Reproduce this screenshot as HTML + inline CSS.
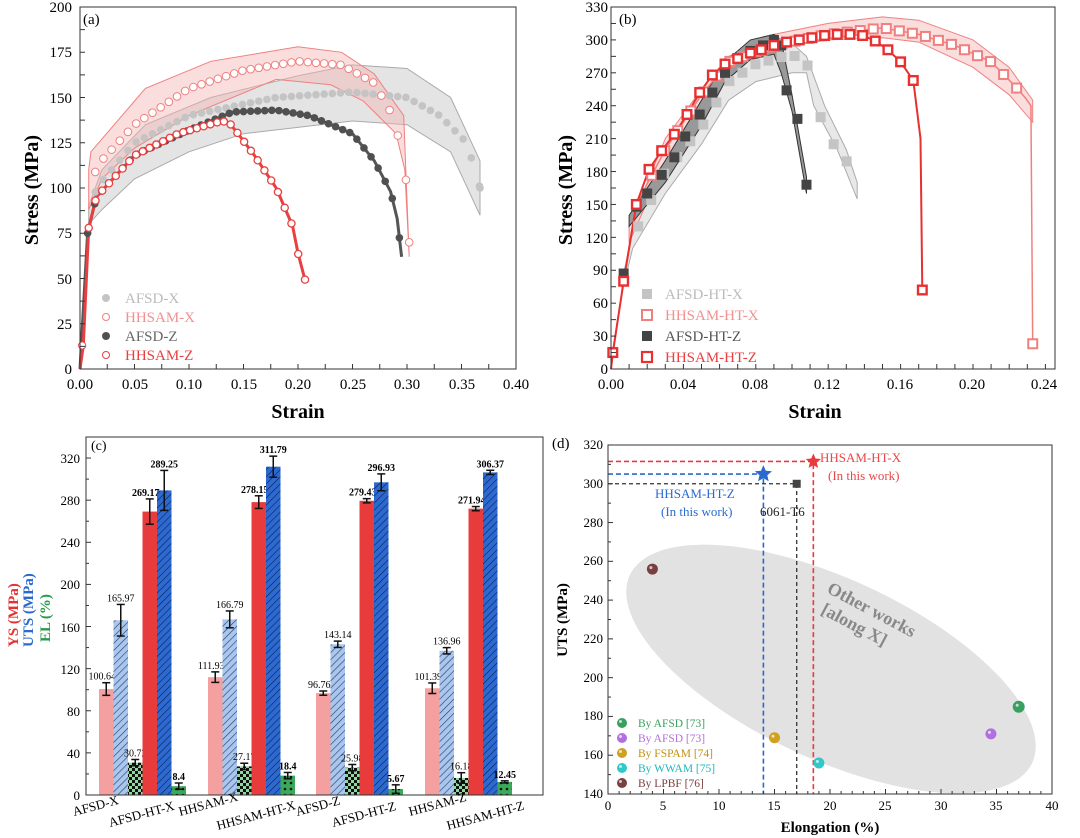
<!DOCTYPE html>
<html><head><meta charset="utf-8"><style>
body{margin:0;background:#fff;width:1080px;height:838px;overflow:hidden}
svg{display:block;font-family:"Liberation Serif",serif}
</style></head><body>
<svg id="s" width="1080" height="838" viewBox="0 0 1080 838" xmlns="http://www.w3.org/2000/svg">
<defs>
<pattern id="hl" width="5" height="5" patternUnits="userSpaceOnUse" patternTransform="rotate(45)"><rect width="5" height="5" fill="#a9c6ee"/><line x1="0" y1="0" x2="0" y2="5" stroke="#2a3a60" stroke-width="1.2"/></pattern>
<pattern id="hd" width="5" height="5" patternUnits="userSpaceOnUse" patternTransform="rotate(45)"><rect width="5" height="5" fill="#2c6ad2"/><line x1="0" y1="0" x2="0" y2="5" stroke="#0c2050" stroke-width="1.2"/></pattern>
<pattern id="ck" width="6" height="6" patternUnits="userSpaceOnUse"><rect width="6" height="6" fill="#8fd8a0"/><rect width="3" height="3" fill="#111"/><rect x="3" y="3" width="3" height="3" fill="#111"/></pattern>
<pattern id="dm" width="6" height="6" patternUnits="userSpaceOnUse"><rect width="6" height="6" fill="#3aaa5a"/><circle cx="3" cy="3" r="1.3" fill="#111"/></pattern>
</defs>
<g id="A"></g><g id="B"></g><g id="C"></g><g id="D"></g>
<!-- text panel a -->
<g font-size="15" text-anchor="end">
<text x="72" y="374">0</text><text x="72" y="329">25</text><text x="72" y="284">50</text><text x="72" y="238">75</text><text x="72" y="193">100</text><text x="72" y="148">125</text><text x="72" y="103">150</text><text x="72" y="57">175</text><text x="72" y="12">200</text>
</g>
<g font-size="15" text-anchor="middle">
<text x="80" y="389">0.00</text><text x="135" y="389">0.05</text><text x="189" y="389">0.10</text><text x="244" y="389">0.15</text><text x="298" y="389">0.20</text><text x="353" y="389">0.25</text><text x="407" y="389">0.30</text><text x="462" y="389">0.35</text><text x="516" y="389">0.40</text>
</g>
<text x="298" y="418" font-size="20" font-weight="bold" text-anchor="middle">Strain</text>
<text transform="translate(38,190) rotate(-90)" font-size="20" font-weight="bold" text-anchor="middle">Stress (MPa)</text>
<text x="83" y="24" font-size="15">(a)</text>
<g font-size="15"><text x="125" y="303" fill="#bbb">AFSD-X</text><text x="125" y="322" fill="#f09090">HHSAM-X</text><text x="125" y="341" fill="#666">AFSD-Z</text><text x="125" y="360" fill="#e84040">HHSAM-Z</text></g>
<!-- text panel b -->
<g font-size="15" text-anchor="end">
<text x="608" y="374">0</text><text x="608" y="341">30</text><text x="608" y="308">60</text><text x="608" y="275">90</text><text x="608" y="243">120</text><text x="608" y="210">150</text><text x="608" y="177">180</text><text x="608" y="144">210</text><text x="608" y="111">240</text><text x="608" y="78">270</text><text x="608" y="45">300</text><text x="608" y="12">330</text>
</g>
<g font-size="15" text-anchor="middle">
<text x="611" y="389">0.00</text><text x="683" y="389">0.04</text><text x="755" y="389">0.08</text><text x="827" y="389">0.12</text><text x="900" y="389">0.16</text><text x="972" y="389">0.20</text><text x="1044" y="389">0.24</text>
</g>
<text x="815" y="418" font-size="20" font-weight="bold" text-anchor="middle">Strain</text>
<text transform="translate(572,190) rotate(-90)" font-size="20" font-weight="bold" text-anchor="middle">Stress (MPa)</text>
<text x="619" y="24" font-size="15">(b)</text>
<g font-size="15"><text x="665" y="299" fill="#bbb">AFSD-HT-X</text><text x="665" y="320" fill="#f09090">HHSAM-HT-X</text><text x="665" y="341" fill="#555">AFSD-HT-Z</text><text x="665" y="362" fill="#e84040">HHSAM-HT-Z</text></g>
<!-- panel c text -->
<text x="91" y="450" font-size="14">(c)</text>
<g font-size="13" text-anchor="end">
<text x="80" y="800">0</text><text x="80" y="758">40</text><text x="80" y="716">80</text><text x="80" y="674">120</text><text x="80" y="632">160</text><text x="80" y="589">200</text><text x="80" y="547">240</text><text x="80" y="505">280</text><text x="80" y="463">320</text>
</g>
<text transform="translate(18,647) rotate(-90)" font-size="15" font-weight="bold" fill="#e83030">YS (MPa)</text>
<text transform="translate(33,647) rotate(-90)" font-size="15" font-weight="bold" fill="#2a6ad0">UTS (MPa)</text>
<text transform="translate(50,642) rotate(-90)" font-size="15" font-weight="bold" fill="#2a9a50">EL (%)</text>
<g font-size="13">
<text transform="translate(74,816) rotate(-15)">AFSD-X</text>
<text transform="translate(110,827) rotate(-15)">AFSD-HT-X</text>
<text transform="translate(180,816) rotate(-15)">HHSAM-X</text>
<text transform="translate(218,830) rotate(-15)">HHSAM-HT-X</text>
<text transform="translate(297,816) rotate(-15)">AFSD-Z</text>
<text transform="translate(333,827) rotate(-15)">AFSD-HT-Z</text>
<text transform="translate(410,816) rotate(-15)">HHSAM-Z</text>
<text transform="translate(448,830) rotate(-15)">HHSAM-HT-Z</text>
</g>
<!-- panel d text -->
<text x="552" y="448" font-size="15">(d)</text>
<g font-size="13" text-anchor="end">
<text x="603" y="798">140</text><text x="603" y="759">160</text><text x="603" y="720">180</text><text x="603" y="682">200</text><text x="603" y="643">220</text><text x="603" y="604">240</text><text x="603" y="565">260</text><text x="603" y="527">280</text><text x="603" y="488">300</text><text x="603" y="449">320</text>
</g>
<g font-size="13" text-anchor="middle">
<text x="608" y="810">0</text><text x="663" y="810">5</text><text x="719" y="810">10</text><text x="774" y="810">15</text><text x="830" y="810">20</text><text x="885" y="810">25</text><text x="941" y="810">30</text><text x="996" y="810">35</text><text x="1052" y="810">40</text>
</g>
<text x="830" y="832" font-size="15" font-weight="bold" text-anchor="middle">Elongation (%)</text>
<text transform="translate(567,620) rotate(-90)" font-size="15" font-weight="bold" text-anchor="middle">UTS (MPa)</text>
<text x="820" y="462" font-size="13" fill="#e84848">HHSAM-HT-X</text>
<text x="828" y="480" font-size="13" fill="#e84848">(In this work)</text>
<text x="655" y="498" font-size="13" fill="#2a6ad0">HHSAM-HT-Z</text>
<text x="661" y="516" font-size="13" fill="#2a6ad0">(In this work)</text>
<text x="760" y="516" font-size="13" fill="#222">6061-T6</text>
<text transform="translate(826,592) rotate(28)" font-size="18" font-weight="bold" fill="#888">Other works</text>
<text transform="translate(820,613) rotate(28)" font-size="18" font-weight="bold" fill="#888">[along X]</text>
<g font-size="11.5"><text x="638" y="727" fill="#3aa060">By AFSD [73]</text><text x="638" y="742" fill="#b070e0">By AFSD [73]</text><text x="638" y="757" fill="#c09010">By FSPAM [74]</text><text x="638" y="772" fill="#20b8b8">By WWAM [75]</text><text x="638" y="787" fill="#7a4040">By LPBF [76]</text></g>
</svg>
<script>
const NS="http://www.w3.org/2000/svg";
function el(p,t,a){const e=document.createElementNS(NS,t);for(const k in a)e.setAttribute(k,a[k]);p.appendChild(e);return e;}
function interp(d,x){for(let i=0;i<d.length-1;i++){if(x>=d[i][0]&&x<=d[i+1][0]){const t=(x-d[i][0])/(d[i+1][0]-d[i][0]||1);return d[i][1]+t*(d[i+1][1]-d[i][1]);}}return d[d.length-1][1];}
function path(d,X,Y){return d.map((p,i)=>(i?'L':'M')+X(p[0]).toFixed(1)+','+Y(p[1]).toFixed(1)).join('');}
function band(up,lo,X,Y){return path(up,X,Y)+path(lo.slice().reverse(),X,Y).replace('M','L')+'Z';}
function frame(g,x0,y0,x1,y1){el(g,'rect',{x:x0,y:y0,width:x1-x0,height:y1-y0,fill:'none',stroke:'#333','stroke-width':1});}
function ticks(g,X,Y,xs,ys,x0,y1,minor){xs.forEach(v=>el(g,'line',{x1:X(v),x2:X(v),y1:y1,y2:y1-5,stroke:'#333'}));ys.forEach(v=>el(g,'line',{x1:x0,x2:x0+5,y1:Y(v),y2:Y(v),stroke:'#333'}));}
// Panel A
(function(){const g=document.getElementById('A');const X=s=>80+s*1090,Y=v=>369-v*1.81;
const afx=[[0,0],[0.008,85],[0.015,100],[0.05,125],[0.1,140],[0.18,150],[0.25,153],[0.3,150],[0.33,140],[0.355,125],[0.367,100]];
const afxU=[[0.008,90],[0.02,110],[0.06,135],[0.12,150],[0.2,162],[0.25,168],[0.3,166],[0.34,150],[0.367,115]];
const afxL=[[0.008,80],[0.02,88],[0.05,105],[0.1,120],[0.15,130],[0.25,137],[0.3,135],[0.34,120],[0.367,85]];
const hx=[[0,0],[0.008,90],[0.015,112],[0.05,135],[0.1,155],[0.15,165],[0.2,170],[0.24,168],[0.27,158],[0.285,142],[0.298,116],[0.302,70]];
const hxU=[[0.008,110],[0.01,120],[0.06,155],[0.12,170],[0.2,178],[0.24,175],[0.27,163],[0.297,140],[0.302,62]];
const hxL=[[0.008,88],[0.02,105],[0.05,122],[0.1,140],[0.18,160],[0.23,157],[0.26,148],[0.29,130],[0.298,110],[0.302,62]];
const az=[[0,0],[0.007,75],[0.015,95],[0.05,118],[0.1,132],[0.14,142],[0.18,143],[0.21,140],[0.25,130],[0.27,115],[0.285,98],[0.291,83],[0.295,62]];
const hz=[[0,0],[0.003,13],[0.008,78],[0.015,95],[0.05,118],[0.09,130],[0.13,137],[0.137,136],[0.145,130],[0.16,118],[0.18,100],[0.195,79],[0.2,64],[0.207,48]];
el(g,'path',{d:band(afxU,afxL,X,Y),fill:'#e4e4e4',stroke:'#aaa','stroke-width':1});
el(g,'path',{d:band(hxU,hxL,X,Y),fill:'rgba(245,180,180,0.45)',stroke:'#f08080','stroke-width':1});
el(g,'path',{d:path(az,X,Y),fill:'none',stroke:'#555','stroke-width':3});
el(g,'path',{d:path(hz,X,Y),fill:'none',stroke:'#e84040','stroke-width':3});
function mk(d,from,to,step,f){for(let s=from;s<=to+1e-9;s+=step){f(X(s),Y(interp(d,s)));}}
mk(afx,0.014,0.367,0.0075,(x,y)=>el(g,'circle',{cx:x,cy:y,r:3.8,fill:'#c4c4c4'}));
mk(hx,0.014,0.3,0.0075,(x,y)=>el(g,'circle',{cx:x,cy:y,r:3.8,fill:'#fff',stroke:'#f08080','stroke-width':1}));
mk(az,0.007,0.295,0.0065,(x,y)=>el(g,'circle',{cx:x,cy:y,r:3.8,fill:'#505050'}));
mk(hz,0.008,0.207,0.0062,(x,y)=>el(g,'circle',{cx:x,cy:y,r:3.6,fill:'#fff',stroke:'#e84040','stroke-width':1.3}));
el(g,'circle',{cx:X(0.002),cy:Y(13),r:3.6,fill:'#fff',stroke:'#e84040'});
el(g,'circle',{cx:X(0.302),cy:Y(70),r:3.8,fill:'#fff',stroke:'#f08080'});
el(g,'circle',{cx:X(0.367),cy:Y(100),r:3.8,fill:'#c4c4c4'});
[[303,'#c4c4c4','#c4c4c4'],[322,'#fff','#f08080'],[341,'#505050','#505050'],[360,'#fff','#e84040']].forEach(a=>el(g,'circle',{cx:106,cy:a[0]-5,r:3.5,fill:a[1],stroke:a[2]}));
frame(g,80,7,516,369);
const xs=[];for(let i=0;i<=16;i++)xs.push(i*0.025);const ys=[];for(let i=0;i<=16;i++)ys.push(i*12.5);ticks(g,X,Y,xs,ys,80,369);
})();
// Panel B
(function(){const g=document.getElementById('B');const X=s=>611+s*1810,Y=v=>369-v*1.097;
const ax=[[0,0],[0.007,80],[0.015,130],[0.03,180],[0.05,220],[0.065,262],[0.08,278],[0.1,287],[0.11,275],[0.116,228],[0.122,207],[0.13,190],[0.135,172]];
const axU=[[0.006,80],[0.015,148],[0.03,190],[0.05,238],[0.065,280],[0.08,295],[0.1,297],[0.108,285],[0.118,240],[0.13,200],[0.136,170]];
const axL=[[0.006,70],[0.012,110],[0.03,160],[0.05,205],[0.065,245],[0.08,262],[0.1,270],[0.108,270],[0.112,240],[0.125,200],[0.136,155]];
const hx=[[0,0],[0.007,82],[0.014,150],[0.03,200],[0.05,250],[0.065,280],[0.09,295],[0.12,305],[0.15,311],[0.17,305],[0.19,295],[0.21,280],[0.222,260],[0.229,247],[0.232,240],[0.233,23]];
const hxU=[[0.01,130],[0.03,210],[0.05,255],[0.065,285],[0.09,305],[0.12,315],[0.15,321],[0.17,318],[0.2,300],[0.22,275],[0.233,245]];
const hxL=[[0.01,115],[0.03,190],[0.05,240],[0.065,272],[0.09,292],[0.12,300],[0.15,302],[0.17,298],[0.2,275],[0.22,250],[0.233,225]];
const az=[[0,0],[0.007,87],[0.014,148],[0.02,160],[0.028,177],[0.035,193],[0.041,212],[0.049,232],[0.056,252],[0.063,270],[0.077,290],[0.084,295],[0.09,300],[0.094,295],[0.097,254],[0.103,228],[0.108,168]];
const azU=[[0.01,140],[0.03,190],[0.05,245],[0.063,280],[0.077,300],[0.09,305],[0.094,300],[0.1,250],[0.108,175]];
const azL=[[0.01,130],[0.03,170],[0.05,222],[0.063,262],[0.077,282],[0.09,287],[0.094,270],[0.1,235],[0.108,160]];
const hz=[[0,0],[0.001,15],[0.007,80],[0.014,150],[0.021,182],[0.028,199],[0.035,214],[0.042,232],[0.049,252],[0.056,268],[0.063,278],[0.07,283],[0.077,288],[0.083,291],[0.09,295],[0.097,298],[0.104,300],[0.111,302],[0.118,304],[0.125,305],[0.132,305],[0.139,304],[0.146,299],[0.153,291],[0.16,280],[0.167,263],[0.171,210],[0.172,72]];
el(g,'path',{d:band(axU,axL,X,Y),fill:'#e8e8e8',stroke:'#aaa','stroke-width':1});
el(g,'path',{d:band(hxU,hxL,X,Y),fill:'rgba(245,180,180,0.45)',stroke:'#f08080','stroke-width':1});
el(g,'path',{d:band(azU,azL,X,Y),fill:'#999',stroke:'#333','stroke-width':1});
el(g,'path',{d:path(hx,X,Y),fill:'none',stroke:'#f08080','stroke-width':1.5});
el(g,'path',{d:path(hz,X,Y),fill:'none',stroke:'#e83030','stroke-width':2});
function sq(x,y,f,s,w,h){h=h||5;el(g,'rect',{x:x-h,y:y-h,width:2*h,height:2*h,fill:f,stroke:s,'stroke-width':w});}
for(let s=0.015;s<=0.136;s+=0.0072)sq(X(s),Y(interp(ax,s)),'#c4c4c4','none',0);
for(let s=0.0225;s<=0.23;s+=0.0072)sq(X(s),Y(interp(hx,s)),'#fff','#f08080',2,4.5);
sq(X(0.233),Y(23),'#fff','#f08080',2,4.5);
az.slice(1).forEach(p=>{if(p[0]>0.005)sq(X(p[0]),Y(p[1]),'#444','none',0)});
hz.slice(1).forEach(p=>{if(p[0]!==0.171)sq(X(p[0]),Y(p[1]),'#fff','#e83030',2.4,4.3)});
[[299,'#c4c4c4','none',0],[320,'#fff','#f08080',2],[341,'#444','none',0],[362,'#fff','#e83030',2.2]].forEach(a=>sq(647,a[0]-5,a[1],a[2],a[3]));
frame(g,611,7,1055,369);
const xs=[];for(let i=0;i<=24;i++)xs.push(i*0.01);const ys=[];for(let i=0;i<=22;i++)ys.push(i*15);ticks(g,X,Y,xs,ys,611,369);
})();
// Panel C
(function(){const g=document.getElementById('C');const Y=v=>795-v*1.053;
const data=[[100.64,165.97,30.72,269.17,289.25,8.4],[111.93,166.79,27.17,278.15,311.79,18.4],[96.76,143.14,25.98,279.43,296.93,5.67],[101.39,136.96,16.18,271.94,306.37,12.45]];
const err=[[6,15,3,12,19,3],[5,8,3,6,10,3],[2,3,3,2,8,4],[5,3,5,2,2,1]];
const fills=['#f4a0a0','url(#hl)','url(#ck)','#e83c3c','url(#hd)','url(#dm)'];
const starts=[99,208,316,425];const bw=14.5;
data.forEach((gd,gi)=>{gd.forEach((v,bi)=>{const x=starts[gi]+bi*bw;el(g,'rect',{x:x,y:Y(v),width:bw,height:795-Y(v),fill:fills[bi]});
const cx=x+bw/2,e=err[gi][bi];el(g,'line',{x1:cx,x2:cx,y1:Y(v+e),y2:Y(v-e),stroke:'#111','stroke-width':1.5});
[v+e,v-e].forEach(t=>el(g,'line',{x1:cx-4,x2:cx+4,y1:Y(t),y2:Y(t),stroke:'#111','stroke-width':1.5}));
const dx=(bi===0||bi===3)?-4:0;
const t=el(g,'text',{x:cx+dx,y:Y(v+e)-3,'font-size':10,'text-anchor':'middle','font-weight':bi>=3?'bold':'normal'});t.textContent=(''+v);});});
frame(g,86,437,543,795);
for(let i=0;i<=16;i++)el(g,'line',{x1:86,x2:i%2?89:91,y1:Y(i*20),y2:Y(i*20),stroke:'#333'});
})();
// Panel D
(function(){const g=document.getElementById('D');const X=v=>608+v*11.1,Y=v=>794-(v-140)*1.939;
el(g,'ellipse',{cx:831,cy:669,rx:222,ry:90,transform:'rotate(25 831 669)',fill:'#e2e2e2'});
el(g,'polyline',{points:`608,${Y(311.5)} ${X(18.5)},${Y(311.5)} ${X(18.5)},794`,fill:'none',stroke:'#e83c3c','stroke-width':1.6,'stroke-dasharray':'5,3'});
el(g,'polyline',{points:`608,${Y(305)} ${X(14)},${Y(305)} ${X(14)},794`,fill:'none',stroke:'#2a6ad0','stroke-width':1.6,'stroke-dasharray':'5,3'});
el(g,'polyline',{points:`608,${Y(300)} ${X(17)},${Y(300)} ${X(17)},794`,fill:'none',stroke:'#333','stroke-width':1.3,'stroke-dasharray':'4,3'});
el(g,'rect',{x:X(17)-4,y:Y(300)-4,width:8,height:8,fill:'#444'});
function star(cx,cy,r,c){let p='';for(let i=0;i<10;i++){const a=-Math.PI/2+i*Math.PI/5,rr=i%2?r*0.45:r;p+=(cx+rr*Math.cos(a)).toFixed(1)+','+(cy+rr*Math.sin(a)).toFixed(1)+' ';}el(g,'polygon',{points:p,fill:c});}
star(X(14),Y(305),9,'#2a6ad0');star(X(18.5),Y(311.5),8,'#e83c3c');
function ball(x,y,c,r){el(g,'circle',{cx:x,cy:y,r:r||5.5,fill:c});el(g,'circle',{cx:x-1.5,cy:y-1.5,r:1.5,fill:'rgba(255,255,255,0.7)'});}
ball(X(4),Y(256),'#7a4040');ball(X(15),Y(169),'#d0a020');ball(X(19),Y(156),'#30c8c8');ball(X(34.5),Y(171),'#b070e0');ball(X(37),Y(185),'#3aa060',6);
['#3aa060','#b070e0','#d0a020','#30c8c8','#7a4040'].forEach((c,i)=>ball(622,723+i*15,c,5));
frame(g,608,445,1052,794);
for(let i=0;i<=80;i++){if(i%2==0)el(g,'line',{x1:X(i/2),x2:X(i/2),y1:794,y2:i%10==0?789:791,stroke:'#333'});}
for(let i=0;i<=18;i++)el(g,'line',{x1:608,x2:i%2?611:613,y1:Y(140+i*10),y2:Y(140+i*10),stroke:'#333'});
})();
</script>
</body></html>
